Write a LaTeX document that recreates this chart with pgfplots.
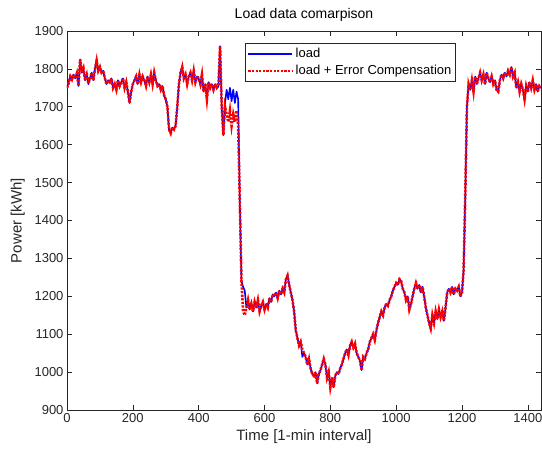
\documentclass[border=0pt]{standalone}
\usepackage{pgfplots}
\pgfplotsset{compat=1.18}
\usepackage{pgfplotstable}
\usepackage{fontspec}
\setmainfont{Liberation Sans}
\definecolor{axgray}{rgb}{0.15,0.15,0.15}
\pgfplotstableread{
x a b
0 1750 1750
5 1765 1762
10 1780 1780
15 1770 1772
20 1785 1785
25 1775 1775
30 1790 1788
35 1755 1755
40 1825 1825
45 1790 1790
50 1800 1802
55 1770 1770
60 1785 1785
65 1760 1762
70 1775 1775
75 1790 1790
80 1770 1770
85 1800 1800
90 1825 1822
95 1795 1795
100 1805 1805
105 1790 1790
110 1795 1795
115 1775 1775
120 1760 1760
125 1770 1770
130 1765 1765
135 1775 1775
140 1750 1750
145 1760 1760
150 1745 1745
155 1770 1770
160 1755 1755
165 1765 1765
170 1775 1775
175 1750 1750
180 1765 1765
185 1740 1740
190 1710 1710
195 1740 1740
200 1760 1760
205 1770 1770
210 1780 1780
215 1760 1760
220 1785 1785
225 1765 1765
230 1780 1780
235 1770 1770
240 1755 1755
245 1780 1780
250 1765 1765
255 1785 1785
260 1760 1760
265 1790 1790
270 1770 1770
275 1755 1755
280 1760 1760
285 1745 1745
290 1755 1755
295 1730 1730
300 1720 1720
305 1700 1700
310 1640 1640
315 1630 1630
320 1645 1645
325 1640 1640
330 1650 1650
335 1700 1700
340 1760 1760
345 1790 1790
350 1805 1805
355 1775 1775
360 1785 1785
365 1760 1760
370 1780 1780
375 1790 1790
380 1770 1770
385 1795 1795
390 1765 1765
395 1780 1780
400 1775 1775
405 1760 1760
410 1785 1785
415 1740 1740
420 1760 1760
425 1720 1720
430 1765 1765
435 1750 1750
440 1760 1760
445 1745 1745
450 1760 1760
455 1750 1750
460 1755 1755
465 1860 1860
470 1700 1700
475 1625 1625
480 1710 1700
485 1745 1680
490 1720 1660
495 1750 1690
500 1715 1650
505 1745 1680
510 1710 1660
515 1740 1690
520 1720 1650
525 1450 1450
530 1240 1240
535 1225 1160
540 1215 1150
545 1170 1170
550 1190 1190
555 1165 1165
560 1180 1180
565 1160 1160
570 1185 1185
575 1170 1170
580 1190 1190
585 1160 1160
590 1175 1175
595 1185 1185
600 1165 1165
605 1180 1180
610 1170 1170
615 1195 1195
620 1185 1185
625 1205 1205
630 1200 1200
635 1210 1210
640 1195 1195
645 1215 1215
650 1205 1205
655 1220 1220
660 1210 1210
665 1245 1245
670 1255 1255
675 1230 1230
680 1210 1210
685 1190 1190
690 1160 1160
695 1110 1110
700 1090 1090
705 1070 1070
710 1080 1080
715 1040 1060
720 1050 1050
725 1040 1040
730 1020 1020
735 1035 1035
740 1010 1010
745 995 995
750 990 990
755 1000 1000
760 970 970
765 995 995
770 1005 1005
775 1020 1020
780 1035 1035
785 1020 1020
790 985 985
795 1000 1000
800 960 960
805 985 985
810 960 960
815 990 990
820 1000 1000
825 995 995
830 1010 1010
835 1020 1020
840 1035 1035
845 1050 1050
850 1060 1060
855 1045 1045
860 1070 1070
865 1080 1080
870 1065 1065
875 1075 1075
880 1050 1050
885 1040 1040
890 1030 1030
895 1005 1005
900 1040 1040
905 1035 1035
910 1050 1050
915 1060 1060
920 1080 1080
925 1090 1090
930 1100 1100
935 1085 1085
940 1110 1110
945 1130 1130
950 1145 1145
955 1160 1160
960 1150 1150
965 1170 1170
970 1180 1180
975 1175 1175
980 1190 1190
985 1200 1200
990 1215 1215
995 1225 1225
1000 1235 1235
1005 1230 1230
1010 1245 1245
1015 1240 1240
1020 1220 1220
1025 1210 1210
1030 1190 1190
1035 1200 1200
1040 1165 1165
1045 1180 1180
1050 1200 1200
1055 1220 1220
1060 1235 1235
1065 1220 1220
1070 1230 1230
1075 1210 1210
1080 1225 1225
1085 1200 1200
1090 1170 1170
1095 1150 1150
1100 1130 1130
1105 1115 1115
1110 1150 1150
1115 1130 1130
1120 1160 1160
1125 1140 1140
1130 1165 1165
1135 1145 1145
1140 1160 1160
1145 1135 1135
1150 1170 1170
1155 1210 1210
1160 1220 1220
1165 1210 1210
1170 1225 1225
1175 1205 1205
1180 1220 1220
1185 1215 1215
1190 1225 1225
1195 1200 1200
1200 1210 1210
1205 1270 1270
1210 1470 1470
1215 1700 1700
1220 1760 1760
1225 1745 1745
1230 1770 1770
1235 1740 1740
1240 1780 1780
1245 1760 1760
1250 1775 1775
1255 1790 1790
1260 1770 1770
1265 1785 1785
1270 1760 1760
1275 1790 1790
1280 1775 1775
1285 1765 1765
1290 1780 1780
1295 1760 1760
1300 1770 1770
1305 1745 1745
1310 1740 1740
1315 1770 1770
1320 1785 1785
1325 1775 1775
1330 1790 1790
1335 1780 1780
1340 1795 1795
1345 1785 1785
1350 1805 1805
1355 1780 1780
1360 1790 1790
1365 1750 1750
1370 1765 1765
1375 1740 1740
1380 1760 1760
1385 1745 1745
1390 1720 1720
1395 1755 1755
1400 1740 1740
1405 1765 1765
1410 1750 1750
1415 1770 1770
1420 1745 1745
1425 1760 1760
1430 1740 1740
1435 1755 1755
1440 1750 1750
}\loaddata

\begin{document}
\begin{tikzpicture}
\begin{axis}[
  scale only axis, width=474pt, height=379pt,
  xmin=0, xmax=1440, ymin=900, ymax=1900,
  xtick={0,200,...,1400}, ytick={900,1000,...,1900},
  tick align=inside, major tick length=5pt,
  axis line style={axgray, line width=0.6pt},
  tick style={axgray, line width=0.6pt},
  ticklabel style={font=\fontsize{13}{15}\selectfont, text=axgray},
  /pgf/number format/assume math mode=true,
  /pgf/number format/set thousands separator={},
  xlabel={Time [1-min interval]}, ylabel={Power [kWh]},
  label style={font=\fontsize{15}{18}\selectfont, text=axgray},
  ylabel style={yshift=3pt},
  title={Load data comarpison},
  title style={font=\fontsize{14}{16}\selectfont, text=black},
  legend style={at={(0.82,0.968)}, anchor=north east,
    font=\fontsize{13}{15}\selectfont, draw=axgray, line width=0.6pt,
    inner xsep=2pt, inner ysep=3pt, row sep=2pt, cells={anchor=west}},
  legend cell align=left,
  legend image code/.code={\draw[#1] (0pt,0pt) -- (44pt,0pt);},
]
\addplot[blue, line width=1.6pt, line join=round] table[x=x,y=a]{\loaddata};
\addlegendentry{load}
\addplot[red, line width=2.6pt, dash pattern=on 2.2pt off 1.4pt] table[x=x,y=b]{\loaddata};
\addlegendentry{load + Error Compensation}
\coordinate (bl) at (rel axis cs:0,0);
\coordinate (tr) at (rel axis cs:1,1);
\end{axis}
\pgfresetboundingbox
\path[use as bounding box] ([shift={(-67pt,-48pt)}]bl) rectangle ([shift={(1pt,31pt)}]tr);
\end{tikzpicture}
\end{document}
